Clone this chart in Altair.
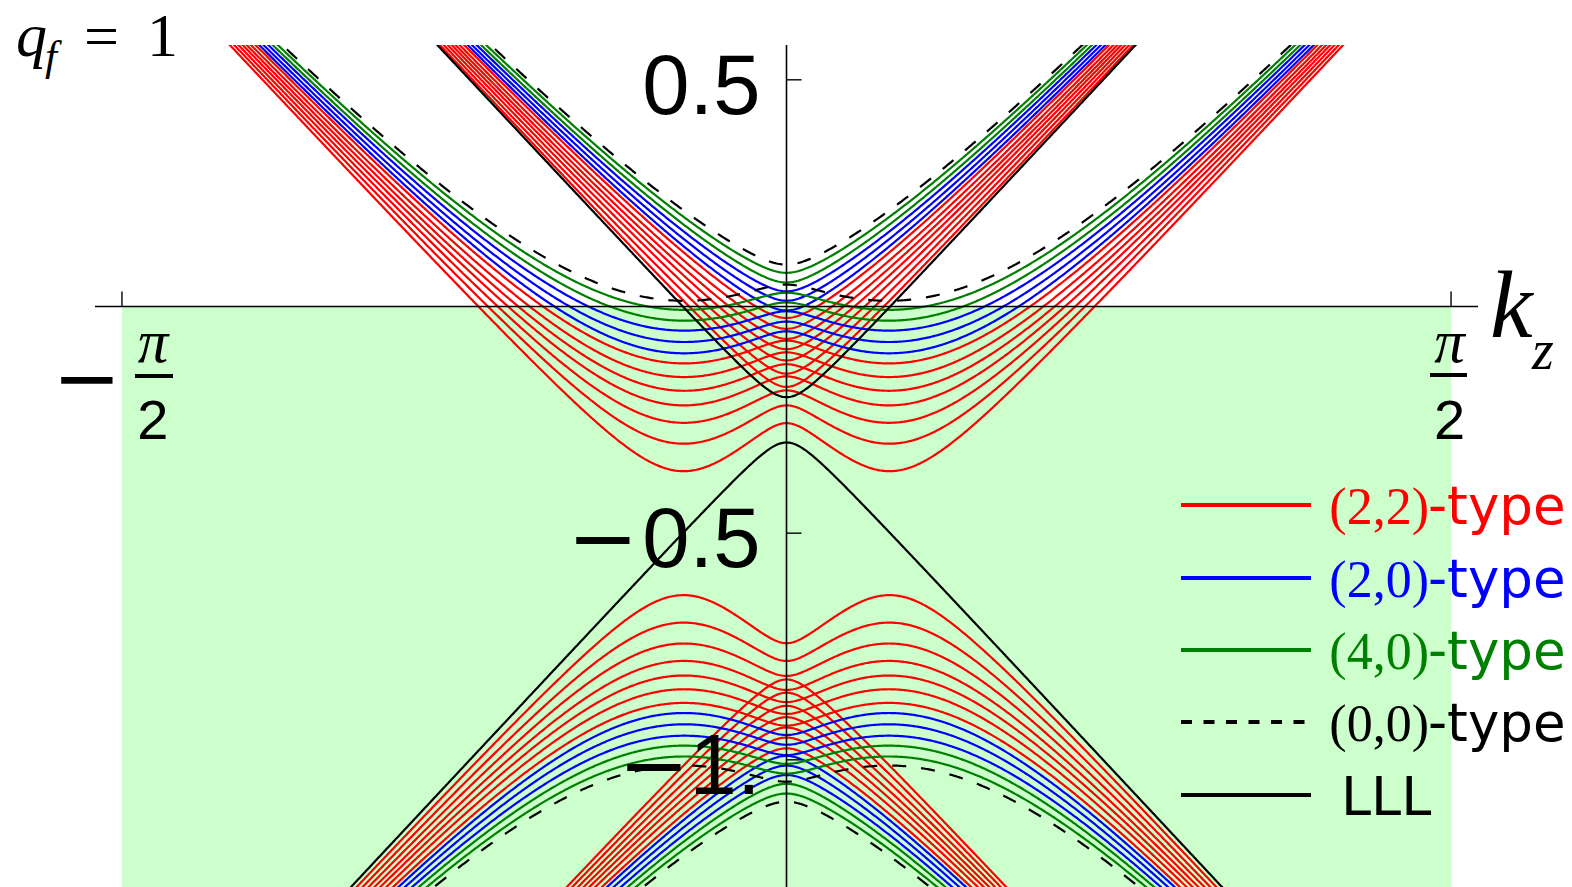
import math
import altair as alt
import numpy as np
import pandas as pd

alt.data_transformers.disable_max_rows()

# ---- Landau-level spectrum along k_z for q_f = 1 ----
# one entry per Landau level (levels n = 1 .. 13)
level_type = ["(2,2)"] * 7 + ["(2,0)"] * 3 + ["(4,0)"] * 2 + ["(0,0)"]
landau_mass = [0.141, 0.201, 0.247, 0.285, 0.317, 0.347, 0.377,
               0.399, 0.424, 0.449, 0.471, 0.495, 0.515]
mixing_gap = [0.040, 0.035, 0.033, 0.030, 0.028, 0.026, 0.025,
              0.023, 0.023, 0.022, 0.022, 0.022, 0.022]
node_kz = 0.245        # Weyl nodes at k_z = +/- node_kz
node_energy = -0.5     # energy of the Weyl nodes
lll_center = -0.25     # crossing point of the two chiral lowest levels
lll_gap = 0.05         # half gap opened between the chiral lowest levels

type_names = ["(2,2)", "(2,0)", "(4,0)", "(0,0)", "LLL"]
type_colors = ["#ff0000", "#0000ff", "#008000", "#000000", "#000000"]

x_lo, x_hi = -1.6345, 1.6345
y_lo, y_hi = -1.2805, 0.5768

# ---- build the curves ----
kz = np.round(np.arange(x_lo, x_hi + 1e-9, 0.003), 4)
rows = []


def add_curve(name, typ, energy):
    keep = (energy > y_lo - 0.08) & (energy < y_hi + 0.08)
    for k, e in zip(kz[keep], energy[keep]):
        rows.append((name, typ, float(k), round(float(e), 5)))


for n, (typ, mass, gap) in enumerate(zip(level_type, landau_mass, mixing_gap)):
    for sign, band in ((1, "c"), (-1, "v")):
        left = node_energy + sign * np.sqrt((kz + node_kz) ** 2 + mass ** 2)
        right = node_energy + sign * np.sqrt((kz - node_kz) ** 2 + mass ** 2)
        mean = 0.5 * (left + right)
        split = np.sqrt((0.5 * (left - right)) ** 2 + gap ** 2)
        add_curve(f"{band}{n}a", typ, mean + split)
        add_curve(f"{band}{n}b", typ, mean - split)

add_curve("lll_up", "LLL", lll_center + np.sqrt(kz ** 2 + lll_gap ** 2))
add_curve("lll_dn", "LLL", lll_center - np.sqrt(kz ** 2 + lll_gap ** 2))

curves = pd.DataFrame(rows, columns=["curve", "type", "k", "E"])

xs = alt.Scale(domain=[x_lo, x_hi], nice=False, zero=False)
ys = alt.Scale(domain=[y_lo, y_hi], nice=False, zero=False)


def X(field):
    return alt.X(field, type="quantitative", scale=xs, axis=None)


def Y(field):
    return alt.Y(field, type="quantitative", scale=ys, axis=None)


PAD_L, PAD_T = 95, 45

# shaded Fermi sea (E < 0 inside the Brillouin-zone window)
sea = alt.Chart(pd.DataFrame({"k1": [-math.pi / 2], "k2": [math.pi / 2],
                              "e1": [y_lo], "e2": [0.0]})).mark_rect(
    color="#ccffcc").encode(x=X("k1"), x2="k2", y=Y("e1"), y2="e2")

layers = [sea]
for typ, col in zip(type_names, type_colors):
    sub = curves[curves["type"] == typ]
    kw = dict(color=col, strokeWidth=2.2, clip=True)
    if typ == "(0,0)":
        kw["strokeDash"] = [14, 15]
    layers.append(alt.Chart(sub).mark_line(**kw).encode(
        x=X("k"), y=Y("E"), detail="curve:N", order="k:Q"))

# axes through the origin
axes_df = pd.DataFrame({"k1": [x_lo, 0.0], "k2": [x_hi, 0.0],
                        "e1": [0.0, y_lo], "e2": [0.0, y_hi]})
layers.append(alt.Chart(axes_df).mark_rule(color="black", strokeWidth=1.6).encode(
    x=X("k1"), x2="k2", y=Y("e1"), y2="e2"))

xtick_k = [-math.pi / 2, math.pi / 2]
ytick_e = [0.5, -0.5, -1.0]
ytick_digits = ["0.5", "0.5", "1."]
ytick_sign = ["", "\u2212", "\u2212"]

xt = pd.DataFrame({"k1": xtick_k, "k2": xtick_k, "e1": [0.0, 0.0], "e2": [0.033, 0.033]})
layers.append(alt.Chart(xt).mark_rule(color="black", strokeWidth=1.4).encode(
    x=X("k1"), x2="k2", y=Y("e1"), y2="e2"))
yt = pd.DataFrame({"k1": [0.0] * 3, "k2": [0.0355] * 3, "e1": ytick_e, "e2": ytick_e})
layers.append(alt.Chart(yt).mark_rule(color="black", strokeWidth=1.4).encode(
    x=X("k1"), x2="k2", y=Y("e1"), y2="e2"))

# y tick labels: digits, then a wide minus sign in front of them
ylab = pd.DataFrame({"k": [0.0] * 3, "E": ytick_e, "t": ytick_digits, "s": ytick_sign})
layers.append(alt.Chart(ylab).mark_text(
    align="right", baseline="alphabetic", dx=-26, dy=34,
    font="Liberation Sans", fontSize=85, color="black")
    .encode(x=X("k"), y=Y("E"), text="t:N"))
for i, shift in [(1, -148), (2, -97)]:
    layers.append(alt.Chart(ylab.iloc[[i]]).mark_text(
        align="right", baseline="alphabetic", dx=shift, dy=34,
        font="DejaVu Sans", fontSize=85, color="black")
        .encode(x=X("k"), y=Y("E"), text="s:N"))

# x tick labels: -pi/2 and pi/2 written as fractions
frac = pd.DataFrame({"k": xtick_k, "E": [0.0, 0.0]})
for i, shift in enumerate([31, -1.5]):
    one = frac.iloc[[i]]
    layers.append(alt.Chart(one).mark_text(
        align="center", baseline="alphabetic", dx=shift, dy=55.5,
        font="Liberation Serif", fontStyle="italic", fontSize=61, color="black",
        text="\u03c0").encode(x=X("k"), y=Y("E")))
    layers.append(alt.Chart(one).mark_text(
        align="center", baseline="alphabetic", dx=shift, dy=133,
        font="Liberation Sans", fontSize=56, color="black",
        text="2").encode(x=X("k"), y=Y("E")))
layers.append(alt.Chart(frac.iloc[[0]]).mark_text(
    align="center", baseline="alphabetic", dx=-35, dy=100,
    font="DejaVu Sans", fontSize=82, color="black",
    text="\u2212").encode(x=X("k"), y=Y("E")))

bars = pd.DataFrame({"a": [135 - PAD_L, 1430 - PAD_L], "b": [173 - PAD_L, 1467 - PAD_L],
                     "y": [376 - PAD_T, 375 - PAD_T]})
for _, r in bars.iterrows():
    layers.append(alt.Chart(pd.DataFrame({"v": [0]})).mark_rule(
        color="black", strokeWidth=4).encode(
        x=alt.value(r["a"]), x2=alt.value(r["b"]), y=alt.value(r["y"])))


def label(text, x, y, size, font, color="black", align="left", italic=False):
    return alt.Chart(pd.DataFrame({"t": [text]})).mark_text(
        align=align, baseline="alphabetic", font=font, fontSize=size,
        fontStyle="italic" if italic else "normal", color=color).encode(
        x=alt.value(x - PAD_L), y=alt.value(y - PAD_T), text="t:N")


# axis name and field-strength label
layers.append(label("k", 1490, 337, 96, "Liberation Serif", italic=True))
layers.append(label("z", 1532, 369, 56, "Liberation Serif", italic=True))
layers.append(label("q", 16, 56, 62, "Liberation Serif", italic=True))
layers.append(label("f", 45, 70, 43, "Liberation Serif", italic=True))
layers.append(label("=", 84, 57, 62, "Liberation Serif"))
layers.append(label("1", 147, 56, 62, "Liberation Serif"))

# legend
legend_rows = [505, 578, 650, 722, 795]
legend_serif = ["(2,2)", "(2,0)", "(4,0)", "(0,0)", ""]
legend_sans = ["-type", "-type", "-type", "-type", "LLL"]
for row, typ, col, s1, s2 in zip(legend_rows, type_names, type_colors, legend_serif, legend_sans):
    kw = dict(color=col, strokeWidth=4.2)
    if typ == "(0,0)":
        kw["strokeDash"] = [11, 11.5]
    layers.append(alt.Chart(pd.DataFrame({"v": [0]})).mark_rule(**kw).encode(
        x=alt.value(1181 - PAD_L), x2=alt.value(1311 - PAD_L), y=alt.value(row - PAD_T)))
    if s1:
        layers.append(label(s1, 1429, row + 19, 52, "Liberation Serif", col, align="right"))
        layers.append(label(s2, 1428, row + 19, 53, "DejaVu Sans", col))
    else:
        layers.append(label(s2, 1341, row + 20, 54, "DejaVu Sans", col))

chart = alt.layer(*layers).properties(
    width=1383, height=842,
    padding={"left": PAD_L, "top": PAD_T, "right": 94, "bottom": 0},
    autosize=alt.AutoSizeParams(type="none"),
).configure_view(stroke=None)

chart.save("out.html", embed_options={"renderer": "svg", "actions": False})
